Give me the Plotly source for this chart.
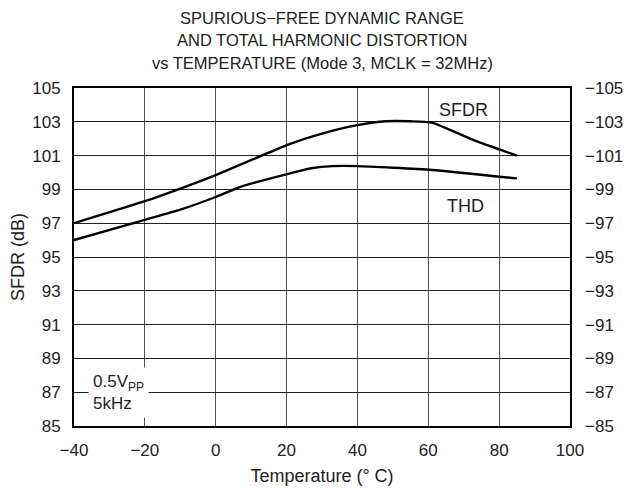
"""SFDR and THD vs temperature (Mode 3, MCLK = 32MHz)."""

import plotly.graph_objects as go

# temperature points (deg C)
sfdr_temp = [-40, -20, -10, 0, 13, 21, 30, 40, 48, 55, 61, 73, 85]
sfdr_db = [97.0, 98.3, 99.05, 99.85, 101.0, 101.7, 102.3, 102.8, 103.03, 103.03, 102.95, 101.9, 101.0]

thd_temp = [-40, -20, -10, 0, 7, 21, 27, 33, 40, 61, 85]
thd_db = [-96.0, -97.2, -97.8, -98.55, -99.15, -99.95, -100.25, -100.38, -100.38, -100.15, -99.65]

x_ticks = [-40, -20, 0, 20, 40, 60, 80, 100]
y_ticks = list(range(85, 106, 2))
y2_ticks = [-v for v in y_ticks]
y2_labels = [f"\u2212{v}" for v in y_ticks]

title_lines = [
    "SPURIOUS\u2212FREE DYNAMIC RANGE",
    "AND TOTAL HARMONIC DISTORTION",
    "vs TEMPERATURE (Mode 3, MCLK = 32MHz)",
]

font = "Liberation Sans, Arial, sans-serif"

fig = go.Figure()

fig.add_trace(
    go.Scatter(
        x=sfdr_temp,
        y=sfdr_db,
        mode="lines",
        line=dict(color="black", width=2.4, shape="spline", smoothing=0.5),
        name="SFDR",
        showlegend=False,
    )
)
fig.add_trace(
    go.Scatter(
        x=thd_temp,
        y=thd_db,
        yaxis="y2",
        mode="lines",
        line=dict(color="black", width=2.4, shape="spline", smoothing=0.5),
        name="THD",
        showlegend=False,
    )
)

# title as three separate lines, spaced like the original
title_ann = [
    dict(
        text=t,
        x=0.5,
        y=yy,
        xref="paper",
        yref="paper",
        xanchor="center",
        yanchor="middle",
        showarrow=False,
        font=dict(size=16.5),
    )
    for t, yy in zip(title_lines, [1.207, 1.141, 1.075])
]

# page body has an 8px margin, so the figure is sized to fit inside it
fig.update_layout(
    width=624,
    height=480,
    autosize=False,
    plot_bgcolor="white",
    paper_bgcolor="white",
    margin=dict(l=66, r=62, t=80, b=62),
    font=dict(family=font, size=17, color="#222"),
    xaxis=dict(
        range=[-40, 100],
        tickvals=x_ticks,
        showgrid=True,
        gridcolor="#555",
        gridwidth=1,
        showline=True,
        linecolor="black",
        linewidth=2,
        mirror=True,
        zeroline=False,
        ticks="",
        ticklabelstandoff=8,
        automargin=False,
        title=dict(text="Temperature (° C)", standoff=10, font=dict(size=18)),
    ),
    yaxis=dict(
        range=[85, 105],
        tickvals=y_ticks,
        showgrid=True,
        gridcolor="#222",
        gridwidth=1,
        showline=True,
        linecolor="black",
        linewidth=2,
        mirror=True,
        zeroline=False,
        ticks="",
        ticklabelstandoff=8,
        automargin=False,
        title=dict(text="SFDR (dB)", standoff=20, font=dict(size=18)),
    ),
    yaxis2=dict(
        range=[-85, -105],
        tickvals=y2_ticks,
        ticktext=y2_labels,
        overlaying="y",
        side="right",
        showgrid=False,
        zeroline=False,
        ticks="",
        ticklabelstandoff=14,
        automargin=False,
    ),
    annotations=title_ann
    + [
        dict(x=70, y=103.7, text="SFDR", showarrow=False, xref="x", yref="y",
             font=dict(size=18)),
        dict(x=70.5, y=98.0, text="THD", showarrow=False, xref="x", yref="y",
             font=dict(size=18)),
        dict(
            x=-36,
            y=85.5,
            text="0.5V<sub>PP</sub><br>5kHz",
            showarrow=False,
            xref="x",
            yref="y",
            xanchor="left",
            yanchor="bottom",
            align="left",
            bgcolor="white",
            borderpad=4,
        ),
    ],
)

fig.write_html("out.html")
